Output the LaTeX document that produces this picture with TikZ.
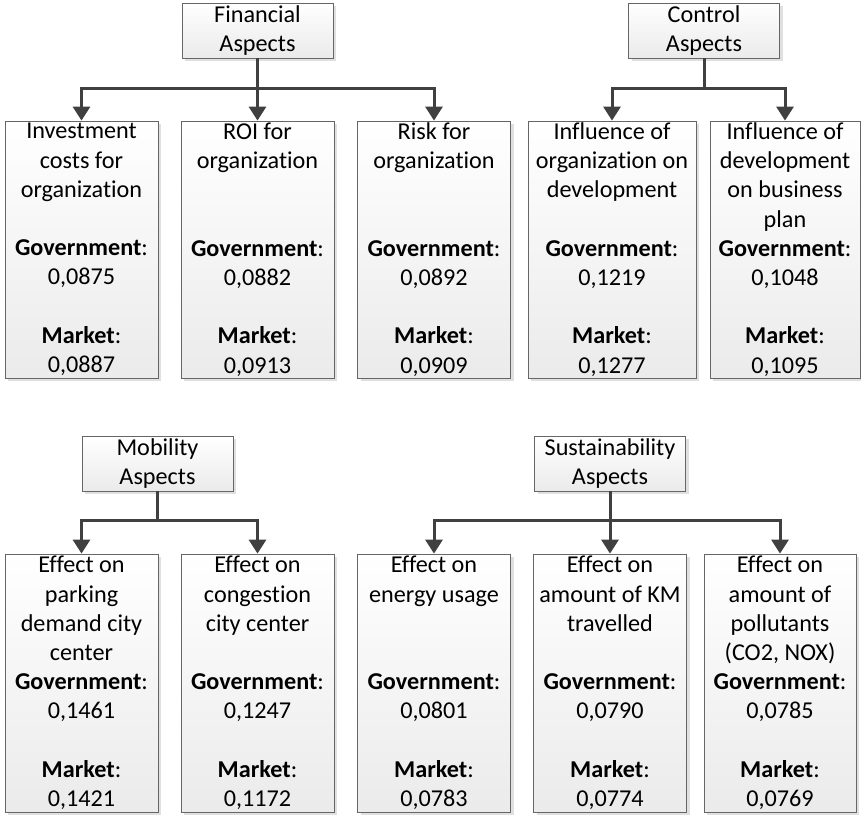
\documentclass[tikz,border=0pt]{standalone}
\usepackage{fontspec}
\setmainfont{Carlito}[Ligatures=NoCommon]
\usetikzlibrary{arrows.meta,shadows}

% title (four lines), government weight, market weight
\newcommand{\weights}[3]{#1\\\textbf{Government}:\\#2\\~\\\textbf{Market}:\\#3}

\tikzset{
  aspect/.style={draw=black!60, line width=0.8pt, top color=white, bottom color=black!8,
    drop shadow={shadow xshift=3pt, shadow yshift=-3pt, fill=black!12, opacity=1},
    align=center, inner sep=0pt, font=\fontsize{24.2}{29.2}\selectfont},
  head/.style={aspect, minimum width=151pt, minimum height=55pt},
  crit/.style={aspect, minimum width=153pt, minimum height=257pt},
  link/.style={draw=black!75, line width=3pt, -{Triangle[width=17pt,length=14pt]}}
}

\begin{document}
\begin{tikzpicture}[x=1pt,y=-1pt]
\useasboundingbox (0,0) rectangle (861,814);

% Financial aspects
\node[head] (fin) at (257.5,30.5) {Financial\\Aspects};
\node[crit] (inv) at (81.5,249.5) {\weights{Investment\\costs for\\organization\\~}{0,0875}{0,0887}};
\node[crit] (roi) at (257.5,249.5) {\weights{ROI for\\organization\\~\\~}{0,0882}{0,0913}};
\node[crit] (risk) at (434,249.5) {\weights{Risk for\\organization\\~\\~}{0,0892}{0,0909}};

\draw[link] (fin.south) -- ++(0,30) -| (inv.north);
\draw[link] (fin.south) -- (roi.north);
\draw[link] (fin.south) -- ++(0,30) -| (risk.north);

% Control aspects
\node[head] (ctl) at (704,30.5) {Control\\Aspects};
\node[crit, minimum width=168pt] (orgdev) at (612,249.5) {\weights{Influence of\\organization on\\development\\~}{0,1219}{0,1277}};
\node[crit, minimum width=150pt] (devplan) at (785,249.5) {\weights{Influence of\\development\\on business\\plan}{0,1048}{0,1095}};

\draw[link] (ctl.south) -- ++(0,30) -| (orgdev.north);
\draw[link] (ctl.south) -- ++(0,30) -| (devplan.north);

% Mobility aspects
\node[head] (mob) at (157.5,463.5) {Mobility\\Aspects};
\node[crit, minimum height=258pt] (park) at (81.5,683) {\weights{Effect on\\parking\\demand city\\center}{0,1461}{0,1421}};
\node[crit, minimum height=258pt] (cong) at (257.5,683) {\weights{Effect on\\congestion\\city center\\~}{0,1247}{0,1172}};

\draw[link] (mob.south) -- ++(0,29) -| (park.north);
\draw[link] (mob.south) -- ++(0,29) -| (cong.north);

% Sustainability aspects
\node[head] (sus) at (610,463.5) {Sustainability\\Aspects};
\node[crit, minimum height=258pt] (energy) at (434,683) {\weights{Effect on\\energy usage\\~\\~}{0,0801}{0,0783}};
\node[crit, minimum height=258pt] (km) at (610,683) {\weights{Effect on\\amount of KM\\travelled\\~}{0,0790}{0,0774}};
\node[crit, minimum width=152pt, minimum height=258pt] (poll) at (780,683) {\weights{Effect on\\amount of\\pollutants\\(CO2, NOX)}{0,0785}{0,0769}};

\draw[link] (sus.south) -- ++(0,29) -| (energy.north);
\draw[link] (sus.south) -- (km.north);
\draw[link] (sus.south) -- ++(0,29) -| (poll.north);
\end{tikzpicture}
\end{document}
